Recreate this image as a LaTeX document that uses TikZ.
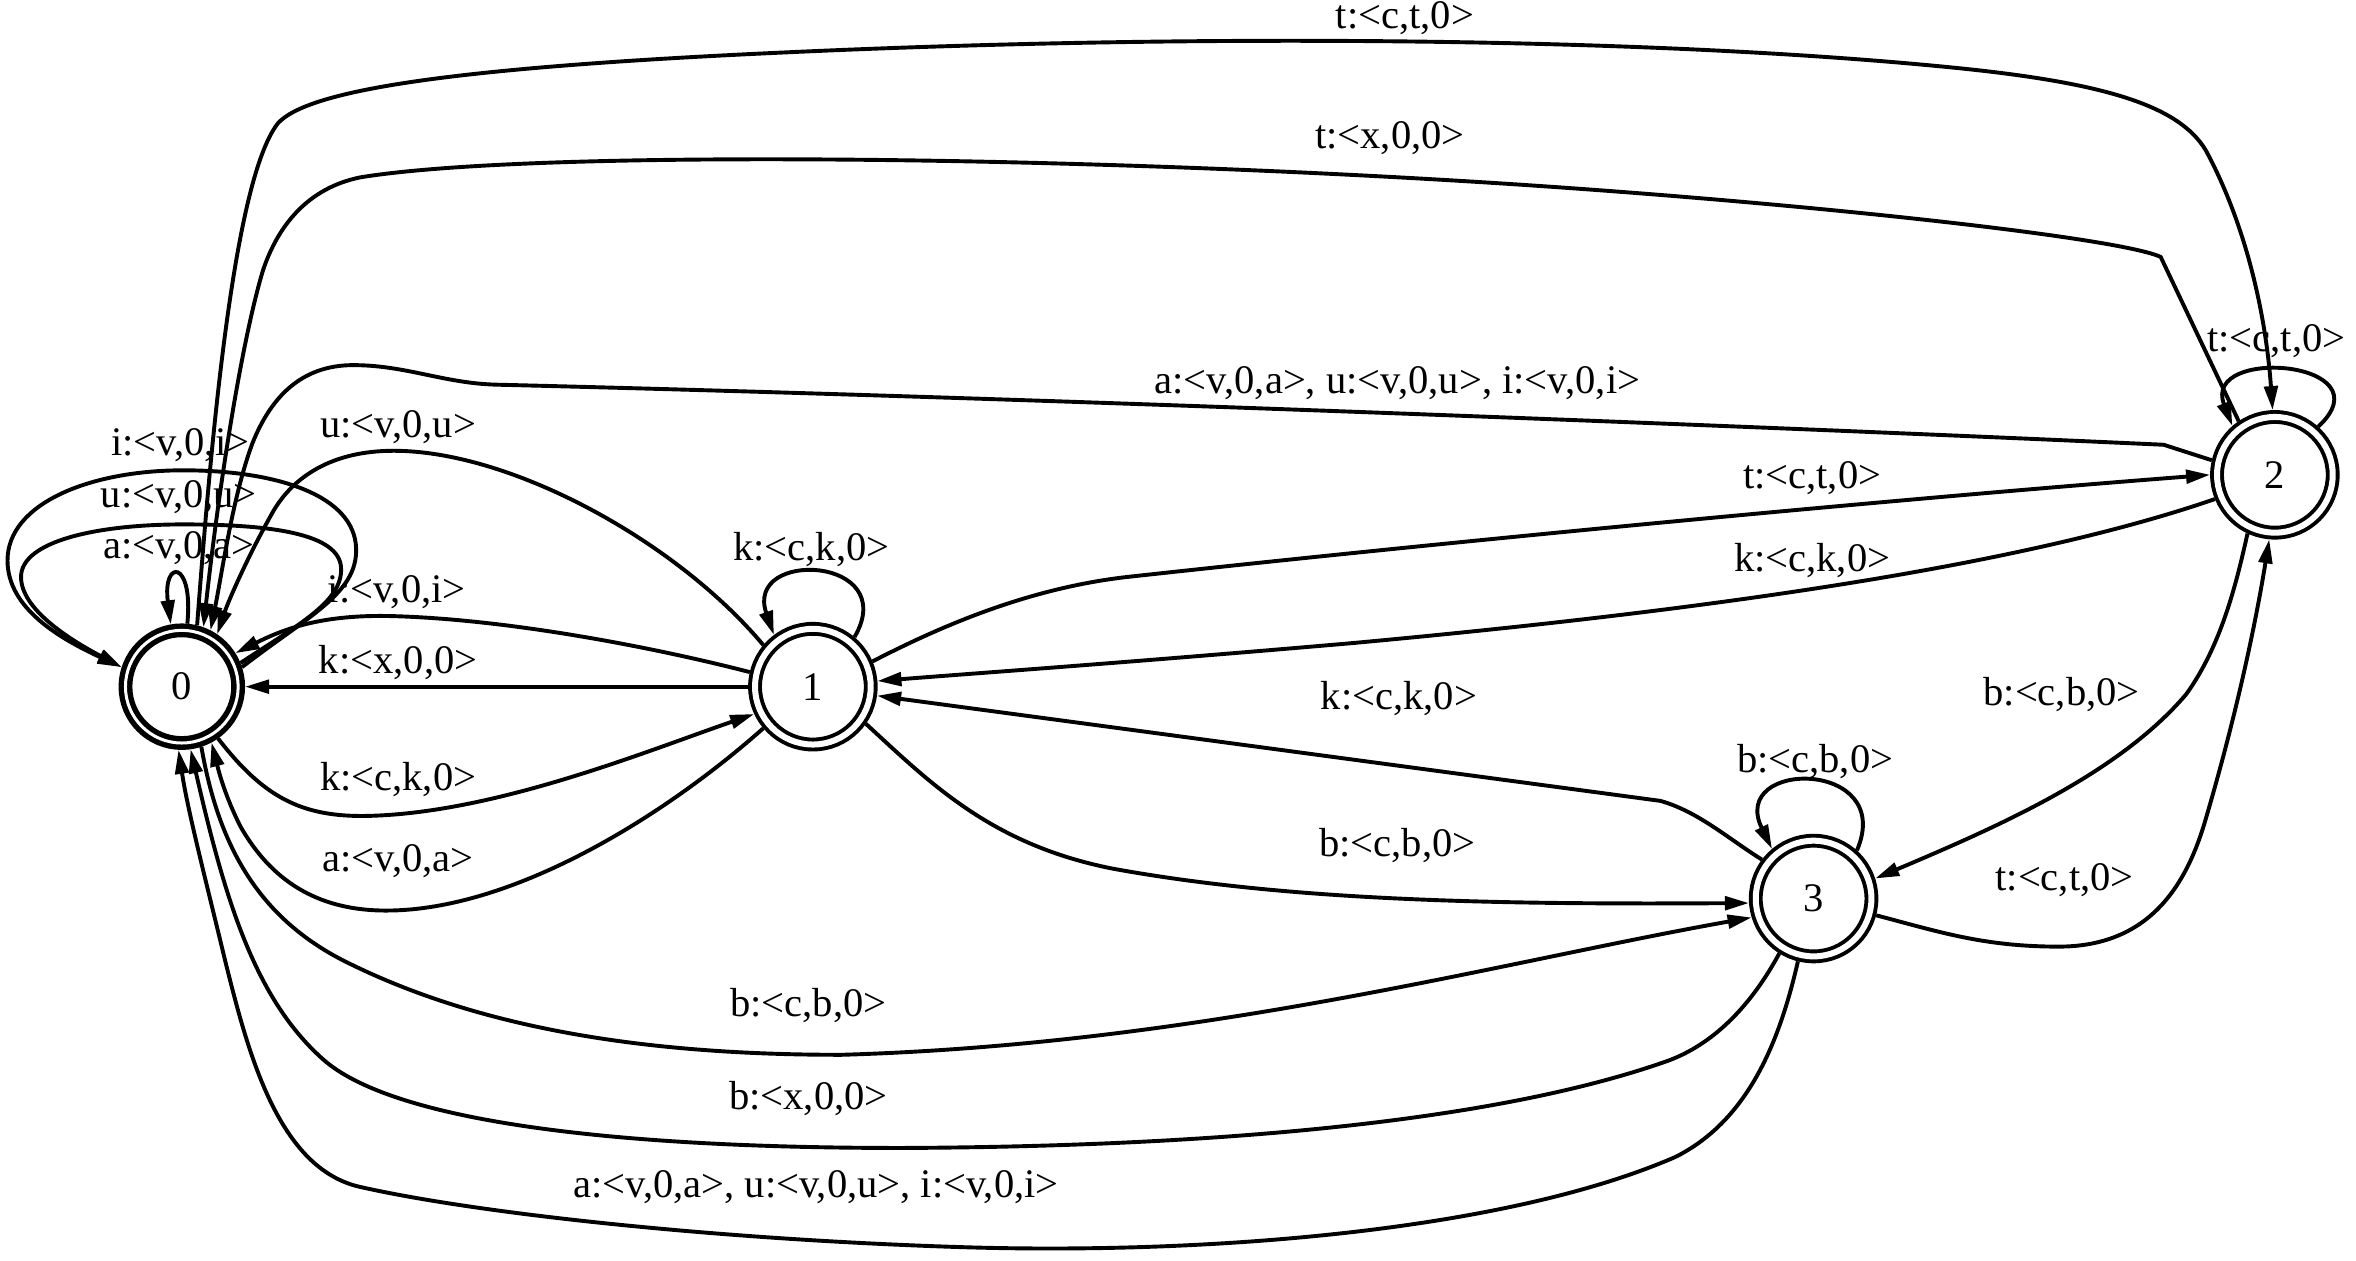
\documentclass[tikz,border=0pt]{standalone}
\usepackage{fontspec}
\setmainfont{Liberation Serif}
\usetikzlibrary{arrows.meta}
\begin{document}
\begin{tikzpicture}[x=1pt,y=-1pt,
  txt/.style={font=\fontsize{27}{30}\selectfont, inner sep=0pt},
  fsm/.style={circle, draw, line width=2.6pt, double, double distance=4pt, minimum size=77pt, inner sep=0pt, outer sep=4.6pt, font=\fontsize{27}{30}\selectfont},
  ffsm/.style={fsm, line width=3.6pt, double distance=2pt, minimum size=75pt, outer sep=4.6pt},
  tr/.style={line width=2.6pt, -{Triangle[length=16pt,width=9pt]}}]
\useasboundingbox (0,0) rectangle (1568,839);
\fill[white] (0,0) rectangle (1568,839);

% states
\node[ffsm] (n0) at (121,457) {0};
\node[fsm]  (n1) at (541,457) {1};
\node[fsm]  (n2) at (1514,316) {2};
\node[fsm]  (n3) at (1207,598) {3};

% self loops of 0
\draw[tr] (n0.18) .. controls (205,410) and (238,395) .. (237,365) .. controls (236,330) and (185,313) .. (122,313) .. controls (60,313) and (5,335) .. (5,373) .. controls (5,405) and (40,425) .. (n0.162);
\draw[tr] (n0.22) .. controls (200,415) and (228,400) .. (227,378) .. controls (226,355) and (180,349) .. (122,349) .. controls (65,349) and (14,360) .. (14,384) .. controls (14,405) and (45,425) .. (n0.162);
\draw[tr] (n0.85) .. controls (129,372) and (108,372) .. (n0.100);

% self loops of 1,2,3
\draw[tr] (n1.50) .. controls (600,370) and (495,365) .. (n1.127);
\draw[tr] (n2.48) .. controls (1590,240) and (1465,230) .. (n2.131);
\draw[tr] (n3.48) .. controls (1262,505) and (1150,505) .. (n3.130);

% 0 -> 2 top
\draw[tr] (n0.76) .. controls (140,300) and (155,120) .. (185,82) .. controls (205,60) and (300,45) .. (520,35) .. controls (800,22) and (1100,25) .. (1300,45) .. controls (1400,55) and (1450,70) .. (1468,100) .. controls (1495,150) and (1508,210) .. (n2.92);
% 2 -> 0 t:<x,0,0>
\draw[tr] (n2.124) -- (1438,171) .. controls (1410,158) and (1200,135) .. (998,122) .. controls (700,103) and (350,100) .. (240,118) .. controls (205,125) and (185,150) .. (175,180) .. controls (160,230) and (145,330) .. (n0.70);
% 2 -> 0 a,u,i
\draw[tr] (n2.167) -- (1440,296) .. controls (1200,285) and (700,265) .. (330,256) .. controls (295,255) and (270,243) .. (235,243) .. controls (200,243) and (180,265) .. (168,295) .. controls (155,330) and (148,380) .. (n0.63);
% 1 -> 0 u
\draw[tr] (n1.140) .. controls (450,360) and (340,300) .. (262,300) .. controls (220,300) and (195,318) .. (182,340) .. controls (165,370) and (152,400) .. (n0.56);
% 1 -> 0 i
\draw[tr] (n1.167) .. controls (440,432) and (340,412) .. (260,410) .. controls (215,409) and (190,418) .. (n0.32);
% 1 -> 0 k:<x,0,0>
\draw[tr] (n1.180) -- (n0.0);
% 0 -> 1 k:<c,k,0>
\draw[tr] (n0.-55) .. controls (175,530) and (200,544) .. (245,543) .. controls (330,541) and (430,500) .. (n1.-155);
% 1 -> 0 a
\draw[tr] (n1.-140) .. controls (440,545) and (340,606) .. (257,606) .. controls (210,606) and (180,585) .. (160,550) .. controls (150,530) and (146,515) .. (n0.-62);
% 0 -> 3 b:<c,b,0>
\draw[tr] (n0.-72) .. controls (145,560) and (170,610) .. (230,640) .. controls (330,690) and (450,702) .. (560,702) .. controls (800,695) and (1000,640) .. (n3.-163);
% 3 -> 0 b:<x,0,0>
\draw[tr] (n3.-122) .. controls (1165,670) and (1140,695) .. (1110,706) .. controls (1000,745) and (820,763) .. (600,764) .. controls (400,764) and (260,745) .. (215,705) .. controls (170,665) and (150,600) .. (n0.-82);
% 3 -> 0 a,u,i
\draw[tr] (n3.-104) .. controls (1185,690) and (1165,745) .. (1115,770) .. controls (1000,820) and (800,835) .. (640,830) .. controls (480,825) and (320,808) .. (240,790) .. controls (185,778) and (165,700) .. (150,640) .. controls (138,590) and (125,540) .. (n0.-93);
% 3 -> 1 k:<c,k,0>
\draw[tr] (n3.143) .. controls (1150,558) and (1130,540) .. (1105,533) -- (n1.-8);
% 1 -> 3 b:<c,b,0>
\draw[tr] (n1.-35) .. controls (620,522) and (660,562) .. (740,578) .. controls (860,600) and (1000,602) .. (n3.-176);
% 1 -> 2 t:<c,t,0>
\draw[tr] (n1.23) .. controls (620,420) and (680,392) .. (750,384) .. controls (950,362) and (1250,333) .. (n2.180);
% 2 -> 1 k:<c,k,0>
\draw[tr] (n2.-158) .. controls (1350,375) and (1150,405) .. (900,428) .. controls (750,441) and (650,448) .. (n1.5);
% 2 -> 3 b:<c,b,0>
\draw[tr] (n2.-115) .. controls (1488,390) and (1478,430) .. (1455,462) .. controls (1410,515) and (1330,550) .. (n3.18);
% 3 -> 2 t:<c,t,0>
\draw[tr] (n3.-15) .. controls (1290,620) and (1320,630) .. (1370,630) .. controls (1430,630) and (1455,590) .. (1468,545) .. controls (1490,470) and (1502,410) .. (n2.-95);

% labels
\node[txt] (l1)  at (935,12)  {t:<c,t,0>};
\node[txt] (l2)  at (925,92)  {t:<x,0,0>};
\node[txt] (l3)  at (930,255) {a:<v,0,a>, u:<v,0,u>, i:<v,0,i>};
\node[txt] (l4)  at (265,284) {u:<v,0,u>};
\node[txt] (l5)  at (120,296) {i:<v,0,i>};
\node[txt] (l6)  at (119,331) {u:<v,0,u>};
\node[txt] (l7)  at (119,365) {a:<v,0,a>};
\node[txt] (l8)  at (264,394) {i:<v,0,i>};
\node[txt] (l9)  at (265,441) {k:<x,0,0>};
\node[txt] (l10) at (265,519) {k:<c,k,0>};
\node[txt] (l11) at (265,573) {a:<v,0,a>};
\node[txt] (l12) at (540,366) {k:<c,k,0>};
\node[txt] (l13) at (1206,318) {t:<c,t,0>};
\node[txt] (l14) at (1206,373) {k:<c,k,0>};
\node[txt] (l15) at (1515,227) {t:<c,t,0>};
\node[txt] (l16) at (931,465) {k:<c,k,0>};
\node[txt] (l17) at (1372,462) {b:<c,b,0>};
\node[txt] (l18) at (1208,507) {b:<c,b,0>};
\node[txt] (l19) at (930,563) {b:<c,b,0>};
\node[txt] (l20) at (1374,586) {t:<c,t,0>};
\node[txt] (l21) at (538,669) {b:<c,b,0>};
\node[txt] (l22) at (538,731) {b:<x,0,0>};
\node[txt] (l23) at (543,790) {a:<v,0,a>, u:<v,0,u>, i:<v,0,i>};
\end{tikzpicture}
\end{document}
